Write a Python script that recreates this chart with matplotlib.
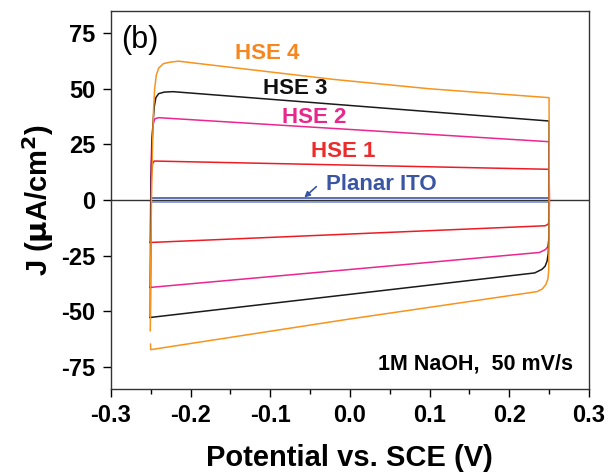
import matplotlib
matplotlib.use("Agg")
import matplotlib.pyplot as plt
from matplotlib.ticker import MultipleLocator

plt.rcParams['font.family'] = ['Liberation Sans', 'DejaVu Sans']

# Cyclic voltammograms: potential (V vs SCE) and current density (uA/cm^2),
# traced around each loop: forward scan, reversal at +0.25 V, reverse scan.
v_hse4 = [-0.2505, -0.2500, -0.2490, -0.2478, -0.2465, -0.2450, -0.2430, -0.2400,
          -0.2340, -0.2250, -0.2150, -0.0200, 0.1000, 0.2500,
          0.2502, 0.2500, 0.2495, 0.2485, 0.2460, 0.2415, 0.2350,
          0.0000, -0.2500, -0.2502]
j_hse4 = [-58.8, -30.0, 0.0, 22.0, 40.0, 50.0, 56.0, 59.3,
          61.3, 62.0, 62.4, 54.2, 50.0, 46.0,
          20.0, -20.0, -32.0, -35.6, -38.0, -40.0, -41.2,
          -53.5, -67.3, -64.8]

v_hse3 = [-0.2505, -0.2500, -0.2493, -0.2483, -0.2470, -0.2455, -0.2435, -0.2400,
          -0.2330, -0.2220, 0.2500,
          0.2502, 0.2498, 0.2490, 0.2475, 0.2450, 0.2410, 0.2320,
          -0.2500, -0.2505]
j_hse3 = [-52.8, -20.0, 10.0, 25.0, 35.0, 42.0, 46.0, 47.8,
          48.5, 48.7, 35.5,
          10.0, -15.0, -24.0, -27.5, -29.8, -31.2, -32.8,
          -52.8, -52.8]

v_hse2 = [-0.2505, -0.2500, -0.2495, -0.2485, -0.2470, -0.2447, -0.2400, 0.2500,
          0.2502, 0.2498, 0.2485, 0.2455, 0.2380,
          -0.2500, -0.2505]
j_hse2 = [-39.3, -10.0, 15.0, 28.0, 34.0, 36.5, 37.0, 26.2,
          0.0, -18.0, -21.0, -22.3, -23.6,
          -39.3, -39.3]

v_hse1 = [-0.2505, -0.2500, -0.2490, -0.2475, -0.2455, 0.2500,
          0.2505, 0.2500, 0.2490, 0.2450,
          -0.2500, -0.2505]
j_hse1 = [-19.1, 0.0, 12.0, 16.5, 17.5, 13.8,
          0.0, -9.0, -10.9, -11.6,
          -19.1, -19.1]

v_ito_fwd = [-0.2500, -0.2500, 0.2500, 0.2500]
j_ito_fwd = [-0.9, 0.8, 0.8, -0.9]
v_ito_rev = [0.2500, -0.2500]
j_ito_rev = [-0.9, -0.9]

series = [
    ("HSE 1", v_hse1, j_hse1, "#ED1C24"),
    ("HSE 2", v_hse2, j_hse2, "#EC268F"),
    ("HSE 3", v_hse3, j_hse3, "#1A1A1A"),
    ("HSE 4", v_hse4, j_hse4, "#F7941D"),
]

x_ticks = [-0.3, -0.2, -0.1, 0.0, 0.1, 0.2, 0.3]
y_ticks = [-75, -50, -25, 0, 25, 50, 75]

fig = plt.figure(figsize=(6.09, 4.75), dpi=100)
ax = fig.add_axes([0.182, 0.181, 0.785, 0.796])

ax.axhline(0, color="#333333", lw=1.0, zorder=1)
ax.plot(v_ito_fwd, j_ito_fwd, color="#2E4A9E", lw=1.1, zorder=2)
ax.plot(v_ito_rev, j_ito_rev, color="#6F86C4", lw=1.1, zorder=2)
for name, v, j, c in series:
    ax.plot(v, j, color=c, lw=1.1, zorder=2)

ax.set_xlim(-0.3, 0.3)
ax.set_ylim(-85, 85)
ax.set_xticks(x_ticks)
ax.set_yticks(y_ticks)
ax.set_xticklabels([f"{t:.1f}" for t in x_ticks])
ax.set_yticklabels([str(t) for t in y_ticks])
ax.xaxis.set_minor_locator(MultipleLocator(0.05))
ax.tick_params(axis="both", which="major", direction="out", length=6, width=1,
               labelsize=17, pad=5)
ax.tick_params(axis="x", which="minor", direction="out", length=3.5, width=1)
for lab in ax.get_xticklabels() + ax.get_yticklabels():
    lab.set_fontweight("bold")
for s in ax.spines.values():
    s.set_linewidth(1.0)
    s.set_color("#333333")

ax.set_xlabel("Potential vs. SCE (V)", fontsize=21, fontweight="bold", labelpad=12)
ax.set_ylabel(r"J ($\mathbf{\mu}$A/cm$^\mathbf{2}$)", fontsize=21, fontweight="bold",
              labelpad=4)

# Curve annotations
lbl = dict(fontsize=16, fontweight="bold", ha="center", va="center")
ax.text(-0.104, 65.8, "HSE 4", color="#F7861F", **lbl)
ax.text(-0.069, 49.9, "HSE 3", color="#111111", **lbl)
ax.text(-0.045, 37.3, "HSE 2", color="#E8268B", **lbl)
ax.text(-0.008, 21.6, "HSE 1", color="#EE2B2B", **lbl)
ax.text(0.040, 7.0, "Planar ITO", color="#3A55A4", **lbl)
ax.annotate("", xy=(-0.0572, 1.1), xytext=(-0.0421, 6.0),
            arrowprops=dict(arrowstyle="-|>", color="#3A55A4", lw=1.2,
                            mutation_scale=8, shrinkA=0, shrinkB=0))

ax.text(0.022, 0.923, "(b)", transform=ax.transAxes, fontsize=22,
        ha="left", va="center")
ax.text(0.966, 0.065, "1M NaOH,  50 mV/s", transform=ax.transAxes, fontsize=15.5,
        fontweight="bold", ha="right", va="center")

fig.savefig("out.png", dpi=100)
